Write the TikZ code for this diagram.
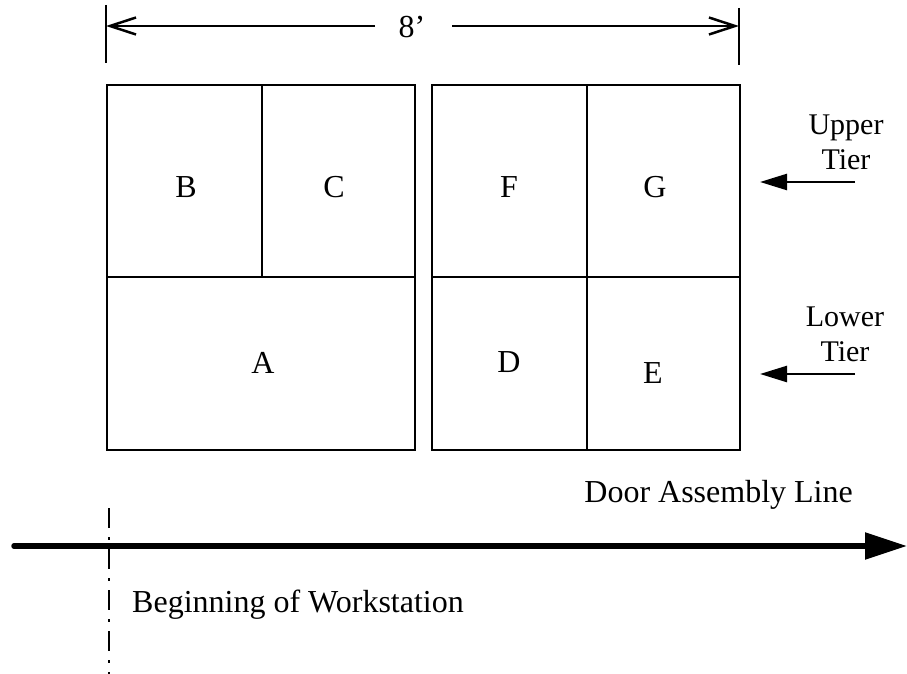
\documentclass[tikz,border=0pt]{standalone}
\usepackage{fontspec}
\setmainfont{Liberation Serif}
\usetikzlibrary{arrows.meta}
\begin{document}
\begin{tikzpicture}[x=1pt,y=-1pt,
  frame/.style={line width=2pt},
  lbl/.style={font=\fontsize{32}{35}\selectfont, inner sep=0pt, anchor=base},
  tierlbl/.style={font=\fontsize{30}{35}\selectfont, inner sep=0pt, align=center, anchor=base},
  dimline/.style={line width=2.5pt, -{Straight Barb[length=26pt,width=17pt,line width=2.5pt]}},
  dimtick/.style={line width=2.5pt},
  tierarrow/.style={line width=2.5pt, -{Triangle[length=27pt,width=16pt]}},
  mainline/.style={line width=5.5pt, line cap=round, -{Triangle[length=42pt,width=26pt]}},
  startline/.style={line width=2.5pt, dash pattern=on 20pt off 9pt on 3pt off 9pt}
]
\useasboundingbox (0,0) rectangle (907,674);

% left rack: B and C above, A below
\draw[frame] (107,85) rectangle (415,450);
\draw[frame] (107,277) -- (415,277);
\draw[frame] (262,85) -- (262,277);
% right rack: F, G above, D, E below
\draw[frame] (432,85) rectangle (740,450);
\draw[frame] (432,277) -- (740,277);
\draw[frame] (587,85) -- (587,450);

\node[lbl] (B) at (186,197) {B};
\node[lbl] (C) at (334,197) {C};
\node[lbl] (A) at (263,373) {A};
\node[lbl] (F) at (509,197) {F};
\node[lbl] (G) at (655,197) {G};
\node[lbl] (D) at (509,372) {D};
\node[lbl] (E) at (653,383) {E};

% overall width dimension
\coordinate (dimLtop) at (106,5);
\coordinate (dimLbot) at (106,63);
\coordinate (dimRtop) at (739,8);
\coordinate (dimRbot) at (739,65);
\draw[dimtick] (dimLtop) -- (dimLbot);
\draw[dimtick] (dimRtop) -- (dimRbot);
\node[lbl] (dim) at (412,38) {8’};
\coordinate (dimLend) at (375,26);
\coordinate (dimRend) at (452,26);
\coordinate (dimL) at (106,26);
\coordinate (dimR) at (739,26);
\draw[dimline] (dimLend) -- (dimL);
\draw[dimline] (dimRend) -- (dimR);

% tier markers
\node[tierlbl] (upper) at (846,169) {Upper\\Tier};
\node[tierlbl] (lower) at (845,361) {Lower\\Tier};
\coordinate (upS) at (855,182);
\coordinate (upT) at (760,182);
\coordinate (loS) at (855,374);
\coordinate (loT) at (760,374);
\draw[tierarrow] (upS) -- (upT);
\draw[tierarrow] (loS) -- (loT);

% assembly line
\node[lbl, anchor=base east] (line) at (853,502) {Door Assembly Line};
\coordinate (lineS) at (14,546);
\coordinate (lineT) at (907,546);
\draw[mainline] (lineS) -- (lineT);

% start of the workstation
\coordinate (wsTop) at (109,508);
\coordinate (wsBot) at (109,674);
\draw[startline] (wsTop) -- (wsBot);
\node[lbl, anchor=base west] (ws) at (132,612) {Beginning of Workstation};
\end{tikzpicture}
\end{document}
